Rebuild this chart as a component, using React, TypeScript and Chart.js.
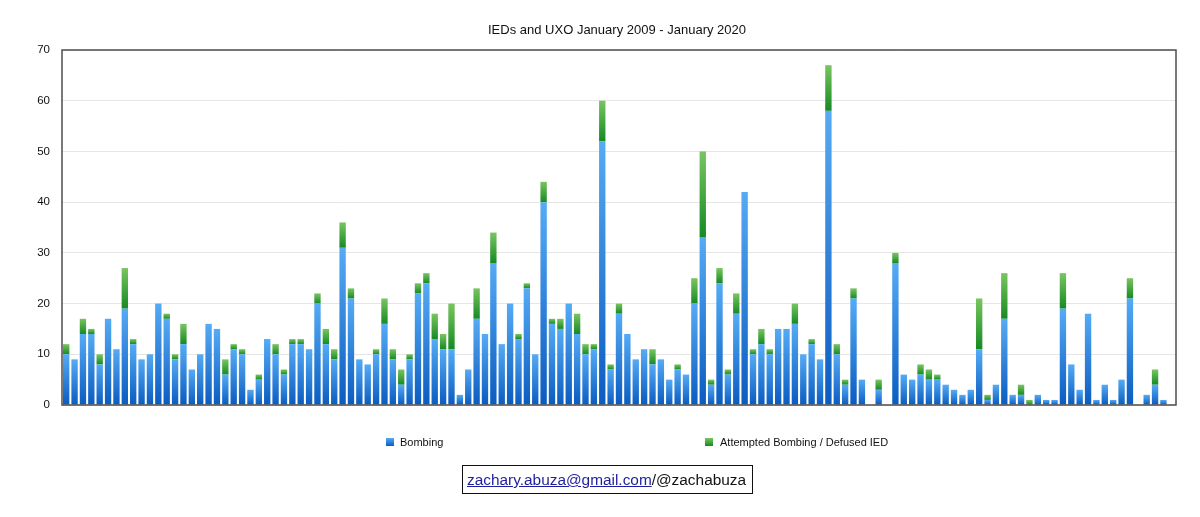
import React, { useEffect, useRef } from "react";
import { Chart, registerables } from "chart.js";

Chart.register(...registerables);

const MONTHS = ["Jan", "Feb", "Mar", "Apr", "May", "Jun", "Jul", "Aug", "Sep", "Oct", "Nov", "Dec"];
const YEARS = [2009, 2010, 2011, 2012, 2013, 2014, 2015, 2016, 2017, 2018, 2019, 2020];

const BOMBING = [
  10, 9, 14, 14, 8, 17, 11, 19, 12, 9, 10, 20, 17, 9, 12, 7, 10, 16, 15, 6,
  11, 10, 3, 5, 13, 10, 6, 12, 12, 11, 20, 12, 9, 31, 21, 9, 8, 10, 16, 9, 4, 9, 22,
  24, 13, 11, 11, 2, 7, 17, 14, 28, 12, 20, 13, 23, 10, 40, 16, 15, 20, 14, 10, 11, 52,
  7, 18, 14, 9, 11, 8, 9, 5, 7, 6, 20, 33, 4, 24, 6, 18, 42, 10, 12, 10, 15, 15, 16,
  10, 12, 9, 58, 10, 4, 21, 5, 0, 3, 0, 28, 6, 5, 6, 5, 5, 4, 3, 2, 3, 11, 1,
  4, 17, 2, 2, 0, 2, 1, 1, 19, 8, 3, 18, 1, 4, 1, 5, 21, 0, 2, 4, 1, 0,
];

const ATTEMPTED = [
  2, 0, 3, 1, 2, 0, 0, 8, 1, 0, 0, 0, 1, 1, 4, 0, 0, 0, 0, 3,
  1, 1, 0, 1, 0, 2, 1, 1, 1, 0, 2, 3, 2, 5, 2, 0, 0, 1, 5, 2, 3, 1, 2,
  2, 5, 3, 9, 0, 0, 6, 0, 6, 0, 0, 1, 1, 0, 4, 1, 2, 0, 4, 2, 1, 8,
  1, 2, 0, 0, 0, 3, 0, 0, 1, 0, 5, 17, 1, 3, 1, 4, 0, 1, 3, 1, 0, 0, 4,
  0, 1, 0, 9, 2, 1, 2, 0, 0, 2, 0, 2, 0, 0, 2, 2, 1, 0, 0, 0, 0, 10, 1,
  0, 9, 0, 2, 1, 0, 0, 0, 7, 0, 0, 0, 0, 0, 0, 0, 4, 0, 0, 3, 0, 0,
];

const CATEGORIES: string[] = [];
YEARS.forEach((yr) => {
  MONTHS.forEach((m) => {
    if (CATEGORIES.length < BOMBING.length) CATEGORIES.push(m + " " + yr);
  });
});

const TITLE = "IEDs and UXO January 2009 - January 2020";
const SERIES_NAMES = ["Bombing", "Attempted Bombing / Defused IED"];
const Y_MIN = 0;
const Y_MAX = 70;
const Y_STEP = 10;

const FONT = "'Liberation Sans', Arial, Helvetica, sans-serif";
const BLUE_TOP = "#55abf5";
const BLUE_BOTTOM = "#0a5cc0";
const GREEN_TOP = "#79c560";
const GREEN_BOTTOM = "#168a24";

function segmentFill(ctx: any, top: string, bottom: string) {
  const chart = ctx.chart;
  const y = chart.scales && chart.scales.y;
  if (!y || ctx.type !== "data") return bottom;
  const i = ctx.dataIndex;
  const ds = ctx.datasetIndex;
  const base = ds === 0 ? 0 : BOMBING[i];
  const val = ds === 0 ? BOMBING[i] : BOMBING[i] + ATTEMPTED[i];
  const y0 = y.getPixelForValue(base);
  const y1 = y.getPixelForValue(val);
  if (!isFinite(y0) || !isFinite(y1) || Math.abs(y0 - y1) < 0.5) return bottom;
  const g = chart.ctx.createLinearGradient(0, y1, 0, y0);
  g.addColorStop(0, top);
  g.addColorStop(1, bottom);
  return g;
}

const framePlugin = {
  id: "frame",
  afterDraw(chart: any) {
    const { ctx, chartArea } = chart;
    if (!chartArea) return;
    ctx.save();
    ctx.strokeStyle = "#4d4d4d";
    ctx.lineWidth = 1.5;
    ctx.strokeRect(chartArea.left, chartArea.top, chartArea.right - chartArea.left, chartArea.bottom - chartArea.top);
    ctx.restore();
  },
};

export default function App() {
  const ref = useRef<HTMLCanvasElement | null>(null);

  useEffect(() => {
    if (!ref.current) return;
    const chart = new Chart(ref.current, {
      type: "bar",
      data: {
        labels: CATEGORIES,
        datasets: [
          {
            label: SERIES_NAMES[0],
            data: BOMBING,
            backgroundColor: (c: any) => segmentFill(c, BLUE_TOP, BLUE_BOTTOM),
            borderWidth: 0,
            barPercentage: 0.76,
            categoryPercentage: 1,
          },
          {
            label: SERIES_NAMES[1],
            data: ATTEMPTED,
            backgroundColor: (c: any) => segmentFill(c, GREEN_TOP, GREEN_BOTTOM),
            borderWidth: 0,
            barPercentage: 0.76,
            categoryPercentage: 1,
          },
        ],
      },
      options: {
        responsive: false,
        animation: false,
        devicePixelRatio: 1,
        layout: { padding: { left: 34, right: 0, top: 0, bottom: 0 } },
        plugins: {
          legend: { display: false },
          tooltip: { enabled: false },
          title: {
            display: true,
            text: TITLE,
            color: "#111111",
            font: { family: FONT, size: 13, weight: "normal" },
            padding: { top: 23, bottom: 11.4 },
          },
        },
        scales: {
          x: {
            stacked: true,
            ticks: { display: false },
            grid: { display: false, drawTicks: false },
            border: { display: false },
            afterFit: (s: any) => {
              s.height = 112;
            },
          },
          y: {
            stacked: true,
            min: Y_MIN,
            max: Y_MAX,
            ticks: {
              stepSize: Y_STEP,
              padding: 12,
              color: "#111111",
              font: { family: FONT, size: 11.5 },
            },
            grid: { color: "#e6e6e6", lineWidth: 1, drawTicks: false },
            border: { display: false },
            afterFit: (s: any) => {
              s.width = 28;
            },
          },
          yRight: {
            type: "linear",
            position: "right",
            display: true,
            min: Y_MIN,
            max: Y_MAX,
            ticks: { display: false },
            grid: { display: false, drawTicks: false },
            border: { display: false },
            afterFit: (s: any) => {
              s.width = 24;
            },
          },
        },
      },
      plugins: [framePlugin],
    } as any);
    return () => chart.destroy();
  }, []);

  const legendText: React.CSSProperties = {
    position: "absolute",
    top: 435,
    fontFamily: FONT,
    fontSize: 11,
    lineHeight: "14px",
    color: "#111",
    whiteSpace: "nowrap",
  };

  return (
    <div style={{ position: "absolute", left: 0, top: 0, width: 1200, height: 517, background: "#ffffff" }}>
      <canvas ref={ref} width={1200} height={517} style={{ position: "absolute", left: 0, top: 0, width: 1200, height: 517 }} />
      <div
        style={{
          position: "absolute",
          left: 386,
          top: 438,
          width: 8,
          height: 8,
          background: `linear-gradient(${BLUE_TOP}, ${BLUE_BOTTOM})`,
        }}
      />
      <div style={{ ...legendText, left: 400 }}>{SERIES_NAMES[0]}</div>
      <div
        style={{
          position: "absolute",
          left: 705,
          top: 438,
          width: 8,
          height: 8,
          background: `linear-gradient(${GREEN_TOP}, ${GREEN_BOTTOM})`,
        }}
      />
      <div style={{ ...legendText, left: 720 }}>{SERIES_NAMES[1]}</div>
      <div
        style={{
          position: "absolute",
          left: 462,
          top: 465,
          width: 291,
          height: 29,
          boxSizing: "border-box",
          border: "1px solid #111",
          paddingLeft: 4,
          fontFamily: FONT,
          fontSize: 15.4,
          lineHeight: "27px",
          color: "#111",
          whiteSpace: "nowrap",
        }}
      >
        <a href="mailto:zachary.abuza@gmail.com" style={{ color: "#1f1f9e", textDecoration: "underline" }}>
          zachary.abuza@gmail.com
        </a>
        /@zachabuza
      </div>
    </div>
  );
}
